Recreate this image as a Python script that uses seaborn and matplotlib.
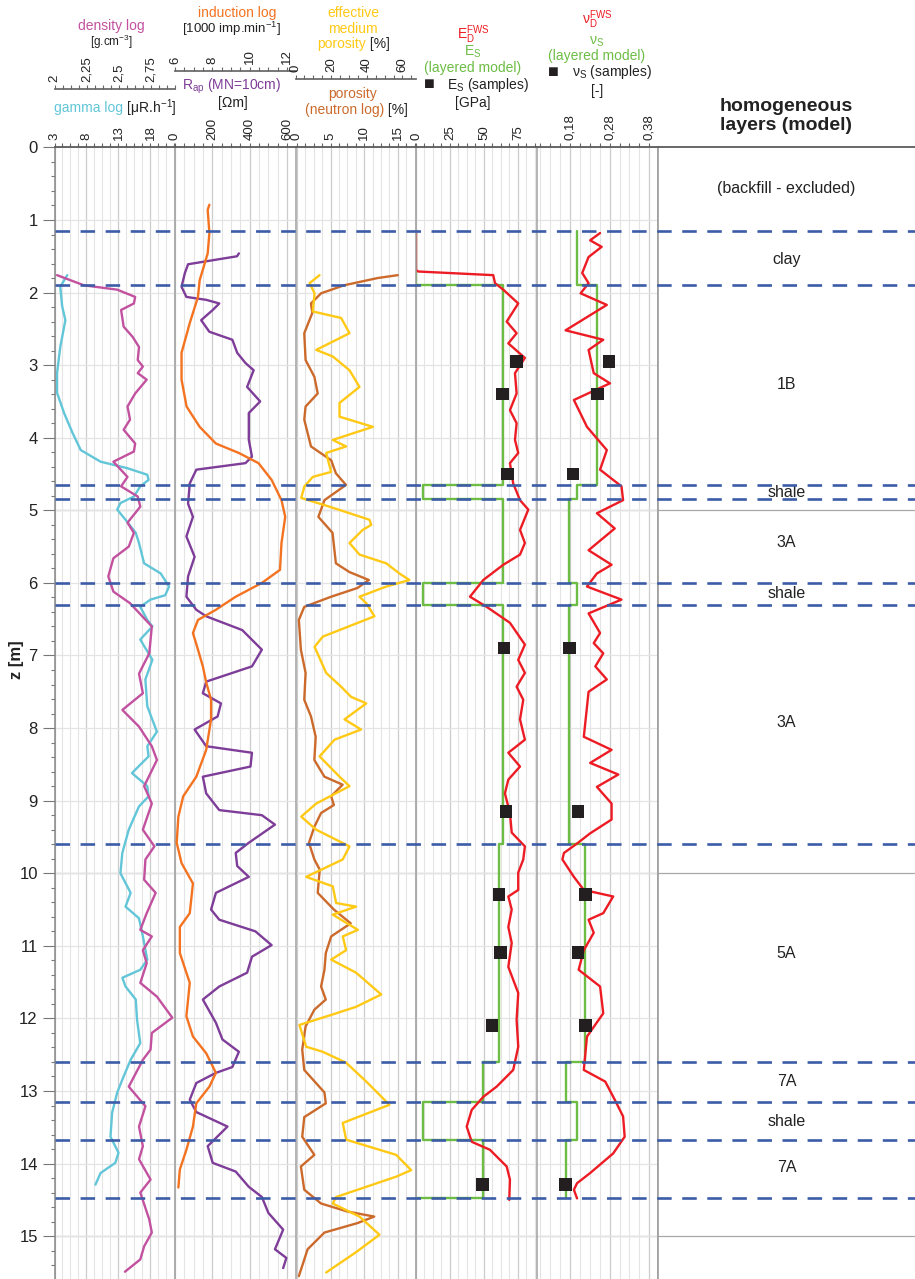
import numpy as np
import matplotlib
matplotlib.use("Agg")
import matplotlib.pyplot as plt
import seaborn as sns
from matplotlib.ticker import FixedLocator, FixedFormatter

# depth log data (z in m)
gamma_z = [1.76, 1.92, 2.19, 2.38, 2.75, 3.11, 3.38, 3.66, 3.93, 4.17, 4.33, 4.42, 4.51, 4.58, 4.67,
           4.81, 4.90, 4.99, 5.13, 5.31, 5.45, 5.73, 5.87, 6.05, 6.17, 6.23, 6.33, 6.51, 6.60, 6.78,
           7.06, 7.33, 7.70, 8.05, 8.25, 8.39, 8.62, 8.80, 8.94, 9.08, 9.40, 9.72, 10.0, 10.27, 10.46,
           10.62, 10.82, 11.19, 11.33, 11.44, 11.56, 11.74, 12.02, 12.34, 12.57, 12.80, 13.02, 13.30,
           13.63, 13.85, 13.99, 14.13, 14.29]
gamma_v = [5.0, 3.9, 4.2, 4.7, 3.9, 3.4, 3.4, 4.5, 5.8, 7.1, 10.2, 14.4, 17.5, 17.7, 16.4,
           15.4, 13.3, 12.8, 14.1, 15.7, 16.2, 17.0, 19.6, 20.9, 20.3, 18.0, 16.4, 17.5, 18.3, 16.4,
           18.3, 17.2, 17.5, 19.0, 17.5, 17.7, 15.1, 17.5, 17.7, 16.2, 14.6, 13.6, 13.3, 14.9, 14.1,
           16.2, 16.7, 17.5, 16.4, 13.6, 14.1, 15.7, 15.9, 16.4, 14.9, 13.8, 12.8, 12.0,
           11.75, 13.0, 12.5, 10.2, 9.4]

dens_z = [1.76, 1.90, 1.96, 2.06, 2.15, 2.24, 2.47, 2.61, 2.75, 2.93, 3.02, 3.11, 3.20, 3.39, 3.57,
          3.75, 3.89, 4.08, 4.19, 4.33, 4.54, 4.67, 4.81, 4.95, 5.17, 5.31, 5.50, 5.66, 5.91, 6.12,
          6.28, 6.60, 6.97, 7.25, 7.52, 7.75, 7.98, 8.25, 8.44, 8.80, 9.04, 9.40, 9.63, 9.81, 10.09,
          10.27, 10.55, 10.78, 10.87, 11.06, 11.24, 11.51, 11.70, 11.99, 12.20, 12.43, 12.57, 12.94,
          13.21, 13.49, 13.76, 13.94, 14.22, 14.40, 14.77, 14.95, 15.14, 15.32, 15.49]
dens_v = [2.02, 2.23, 2.49, 2.63, 2.62, 2.52, 2.54, 2.61, 2.66, 2.65, 2.69, 2.65, 2.72, 2.63, 2.57,
          2.59, 2.54, 2.63, 2.62, 2.46, 2.57, 2.52, 2.65, 2.67, 2.57, 2.62, 2.58, 2.46, 2.42, 2.46,
          2.59, 2.76, 2.74, 2.66, 2.69, 2.53, 2.66, 2.76, 2.80, 2.70, 2.76, 2.69, 2.78, 2.71, 2.70,
          2.79, 2.72, 2.67, 2.76, 2.69, 2.72, 2.67, 2.80, 2.92, 2.76, 2.75, 2.69, 2.58,
          2.71, 2.66, 2.69, 2.66, 2.75, 2.67, 2.74, 2.76, 2.70, 2.67, 2.55]

rap_z = [1.46, 1.50, 1.61, 1.73, 1.92, 2.06, 2.10, 2.15, 2.24, 2.38, 2.54, 2.65, 2.83, 2.97, 3.07,
         3.30, 3.50, 3.66, 4.03, 4.26, 4.35, 4.44, 4.63, 4.91, 5.09, 5.36, 5.64, 5.91, 6.19, 6.37,
         6.46, 6.65, 6.92, 7.15, 7.36, 7.52, 7.66, 7.84, 8.02, 8.25, 8.34, 8.53, 8.67, 8.90, 9.13,
         9.20, 9.33, 9.58, 9.72, 9.90, 10.05, 10.27, 10.50, 10.64, 10.80, 10.99, 11.15, 11.37, 11.56,
         11.74, 12.06, 12.29, 12.46, 12.67, 12.75, 12.89, 13.12, 13.29, 13.49, 13.76, 13.99, 14.11,
         14.32, 14.46, 14.68, 14.91, 15.18, 15.30, 15.44]
rap_v = [342, 332, 70, 53, 35, 61, 167, 237, 202, 140, 184, 307, 333, 377, 421,
         386, 456, 395, 395, 412, 377, 114, 79, 70, 96, 61, 105, 70, 61, 114,
         167, 360, 465, 412, 167, 149, 246, 228, 105, 167, 412, 404, 149, 167, 237,
         465, 535, 395, 325, 333, 395, 219, 193, 237, 430, 517, 412, 386, 237,
         149, 219, 254, 342, 307, 219, 114, 79, 114, 281, 175, 202, 325,
         395, 465, 500, 579, 535, 596, 579]

ind_z = [0.79, 0.86, 1.18, 1.46, 1.83, 2.06, 2.42, 2.83, 3.20, 3.57, 3.85, 4.08, 4.21, 4.35, 4.58,
         4.86, 5.09, 5.45, 5.82, 6.00, 6.19, 6.37, 6.51, 6.69, 6.92, 7.15, 7.37, 7.61, 7.88, 8.30,
         8.67, 8.94, 9.22, 9.58, 9.86, 10.14, 10.55, 10.74, 11.10, 11.51, 11.97, 12.25, 12.48, 12.75,
         12.94, 13.17, 13.49, 13.81, 14.08, 14.33]
ind_v = [7.84, 7.75, 7.84, 7.75, 7.32, 7.23, 6.79, 6.35, 6.35, 6.62, 7.32, 8.19, 9.42, 10.47, 11.17,
         11.70, 11.90, 11.70, 11.62, 10.65, 9.25, 8.19, 7.23, 6.96, 7.23, 7.49, 7.67, 7.93, 7.93, 7.67,
         7.14, 6.44, 6.18, 6.09, 6.35, 6.96, 6.79, 6.26, 6.26, 6.79, 6.61, 6.96, 7.67, 8.19,
         7.84, 7.14, 6.96, 6.61, 6.26, 6.18]

neut_z = [1.76, 1.80, 1.90, 2.01, 2.15, 2.28, 2.56, 2.93, 3.16, 3.39, 3.57, 3.75, 4.12, 4.31, 4.49,
          4.65, 4.86, 5.09, 5.31, 5.73, 5.85, 5.96, 6.07, 6.19, 6.33, 6.51, 6.92, 7.24, 7.61, 7.84,
          8.12, 8.44, 8.67, 8.78, 8.94, 9.06, 9.17, 9.36, 9.58, 9.81, 9.95, 10.27, 10.50, 10.69, 10.87,
          11.10, 11.33, 11.56, 11.74, 11.88, 12.11, 12.43, 12.71, 13.02, 13.17, 13.36, 13.63, 13.88,
          14.04, 14.36, 14.55, 14.66, 14.73, 14.82, 14.95, 15.18, 15.55]
neut_v = [15.0, 12.0, 7.0, 3.6, 2.1, 2.3, 1.1, 1.3, 2.6, 3.1, 1.3, 1.1, 2.1, 5.1, 5.8,
          7.3, 4.1, 3.2, 5.3, 5.8, 7.8, 10.7, 9.0, 5.1, 1.1, 0.3, 0.6, 1.3, 1.1, 2.1,
          2.8, 2.6, 4.1, 6.8, 5.1, 5.5, 3.6, 2.6, 1.8, 2.6, 3.4, 3.1, 5.5, 8.0, 5.1,
          4.3, 4.1, 3.6, 4.3, 2.6, 1.3, 0.8, 1.1, 4.1, 4.3, 1.1, 0.8, 2.6,
          0.6, 1.1, 3.6, 7.5, 11.5, 9.0, 4.1, 1.6, 0.3]

eff_z = [1.76, 1.87, 2.01, 2.26, 2.35, 2.56, 2.79, 2.88, 3.07, 3.30, 3.52, 3.71, 3.85, 4.03, 4.12,
         4.21, 4.47, 4.54, 4.67, 4.83, 4.95, 5.13, 5.20, 5.27, 5.45, 5.61, 5.73, 5.87, 5.96, 6.05,
         6.19, 6.28, 6.46, 6.74, 6.88, 7.24, 7.43, 7.57, 7.66, 7.88, 8.02, 8.16, 8.39, 8.67, 8.80,
         9.04, 9.22, 9.40, 9.63, 9.81, 10.05, 10.18, 10.41, 10.46, 10.57, 10.78, 10.87, 11.06, 11.19,
         11.37, 11.67, 11.84, 11.93, 12.09, 12.39, 12.46, 12.61, 12.87, 13.19, 13.44, 13.67, 13.88,
         14.09, 14.18, 14.32, 14.46, 14.55, 14.73, 14.98, 15.22, 15.50]
eff_v = [13.5, 7.9, 10.7, 9.7, 25.6, 30.3, 11.6, 20.9, 30.3, 35.9, 24.7, 24.7, 43.4, 20.9, 28.4,
         17.2, 20.0, 9.7, 5.0, 3.2, 19.1, 41.5, 42.5, 37.7, 30.3, 35.9, 50.9, 58.3, 63.9, 50.9,
         35.9, 39.7, 44.3, 15.3, 10.7, 17.2, 25.6, 31.2, 39.7, 27.5, 36.8, 21.9, 13.5, 24.7, 30.3,
         11.6, 3.2, 11.6, 30.3, 26.5, 6.0, 20.9, 22.8, 34.0, 20.9, 35.0, 26.5, 28.4, 20.0,
         34.0, 48.1, 34.0, 22.8, 2.2, 6.0, 15.3, 28.4, 39.7, 52.7, 26.5, 28.4, 56.5,
         64.9, 56.5, 39.7, 22.8, 20.9, 35.9, 47.1, 34.0, 17.2]

ed_z = [1.16, 1.69, 1.71, 1.76, 1.87, 1.96, 2.15, 2.40, 2.56, 2.70, 2.90, 3.11, 3.39, 3.62, 3.80,
        4.03, 4.21, 4.35, 4.63, 4.86, 4.99, 5.27, 5.45, 5.61, 5.75, 5.96, 6.19, 6.33, 6.55, 6.85,
        7.06, 7.24, 7.43, 7.61, 7.88, 8.16, 8.34, 8.53, 8.71, 8.90, 9.17, 9.44, 9.63, 9.81, 9.99,
        10.23, 10.32, 10.50, 10.74, 10.96, 11.29, 11.65, 12.02, 12.39, 12.71, 12.94, 13.08, 13.26,
        13.49, 13.70, 13.81, 14.04, 14.22, 14.50]
ed_v = [0, 0, 1.7, 56.8, 58.1, 64.2, 75.2, 66.7, 74.0, 67.9, 80.1, 72.8, 74.0, 69.1, 74.0,
        72.8, 75.2, 69.1, 71.5, 76.5, 82.6, 76.5, 80.1, 76.5, 64.2, 49.5, 39.7, 52.0, 69.1, 80.1,
        75.2, 80.1, 74.0, 78.9, 76.5, 80.1, 67.9, 76.5, 67.9, 65.4, 69.1, 70.4, 80.1, 78.9, 75.2,
        75.2, 67.9, 70.4, 67.9, 70.4, 67.9, 75.2, 74.0, 75.2, 71.5, 59.3, 49.5, 41.0,
        37.3, 41.0, 54.4, 66.7, 69.1, 68.6]

nd_z = [1.18, 1.28, 1.37, 1.51, 1.73, 1.87, 2.01, 2.17, 2.52, 2.65, 2.79, 3.11, 3.25, 3.48, 3.85,
        4.17, 4.44, 4.67, 4.86, 5.04, 5.25, 5.55, 5.75, 5.87, 6.05, 6.23, 6.42, 6.69, 6.83, 6.97,
        7.15, 7.33, 7.50, 8.12, 8.30, 8.48, 8.64, 8.81, 9.04, 9.26, 9.45, 9.59, 9.72, 9.81, 10.05,
        10.23, 10.32, 10.55, 10.64, 10.82, 11.06, 11.33, 11.56, 11.93, 12.25, 12.71, 12.87, 13.12,
        13.35, 13.63, 13.86, 14.13, 14.27, 14.36, 14.48]
nd_v = [0.256, 0.231, 0.260, 0.227, 0.211, 0.227, 0.207, 0.273, 0.169, 0.264, 0.227, 0.240, 0.281, 0.190, 0.223,
        0.273, 0.256, 0.310, 0.314, 0.248, 0.293, 0.227, 0.285, 0.248, 0.223, 0.310, 0.227, 0.256, 0.240, 0.264,
        0.244, 0.273, 0.227, 0.215, 0.285, 0.231, 0.302, 0.248, 0.285, 0.285, 0.231, 0.198, 0.165, 0.161, 0.190,
        0.215, 0.289, 0.264, 0.227, 0.240, 0.215, 0.202, 0.256, 0.264, 0.223, 0.215, 0.269, 0.293,
        0.314, 0.318, 0.289, 0.231, 0.198, 0.190, 0.198]

# layered model
layer_bounds = [1.15, 1.9, 4.65, 4.85, 6.0, 6.3, 9.6, 12.6, 13.15, 13.68, 14.48]
es_layers = [0, 63.7, 5.4, 64.0, 5.4, 64.0, 61.3, 49.0, 5.4, 49.0]
nus_layers = [0.198, 0.248, 0.198, 0.178, 0.198, 0.178, 0.219, 0.169, 0.198, 0.169]
layer_names = ["(backfill - excluded)", "clay", "1B", "shale", "3A", "shale", "3A", "5A", "7A", "shale", "7A"]
layer_name_z = [0.56, 1.54, 3.26, 4.76, 5.45, 6.15, 7.93, 11.1, 12.87, 13.42, 14.05]

sample_z = [2.95, 3.4, 4.5, 6.9, 9.15, 10.29, 11.09, 12.1, 14.29]
es_samples = [74.0, 63.7, 67.4, 64.7, 66.2, 61.0, 62.3, 55.9, 49.0]
nus_samples = [0.279, 0.250, 0.188, 0.179, 0.200, 0.219, 0.200, 0.219, 0.169]

C_GAMMA = "#62c6d8"
C_DENS = "#c2519f"
C_RAP = "#7e3d98"
C_IND = "#f47321"
C_NEUT = "#cc6a2c"
C_EFF = "#ffc915"
C_RED = "#ed1c24"
C_GREEN = "#6dbd45"
C_BLUE = "#3c5ca8"
C_SQ = "#231f20"

sns.set_theme(style="white")
plt.rcParams["font.family"] = ["Liberation Sans", "DejaVu Sans"]
plt.rcParams["mathtext.default"] = "regular"

W, H = 915, 1279
TOP = 147.4
Z_BOT = 15.59
edges = [54.5, 175, 295.5, 416, 537, 658]
axh = (H - TOP) / H

fig = plt.figure(figsize=(W / 100, H / 100), dpi=100)


def fx(x):
    return x / W


def fy(y):
    return 1 - y / H


def fmt(vals):
    return [f"{v:g}".replace(".", ",") for v in vals]


def scale(ax, lim, major, minor):
    ax.set_xlim(*lim)
    ax.xaxis.set_major_locator(FixedLocator(major))
    ax.xaxis.set_minor_locator(FixedLocator(minor))
    ax.xaxis.set_major_formatter(FixedFormatter(fmt(major)))
    ax.tick_params(axis="x", which="both", top=True, bottom=False, labeltop=True,
                   labelbottom=False, direction="out", length=3, width=0.8,
                   color="#666666", labelsize=9.5, labelrotation=90, pad=2,
                   labelcolor="#222222")


def make_track(i, lim, major, minor, top=None):
    ax = fig.add_axes([fx(edges[i]), 0, fx(edges[i + 1] - edges[i]), axh])
    ax2 = None
    if top is not None:
        ax2 = ax.twiny()
        scale(ax2, *top[:3])
        ax2.spines["top"].set_position(("outward", top[3]))
        ax2.spines["top"].set_color("#666666")
        for s in ["left", "right", "bottom"]:
            ax2.spines[s].set_visible(False)
        ax2.grid(False)
    scale(ax, lim, major, minor)
    ax.set_ylim(Z_BOT, 0)
    ax.set_yticks(range(0, 16))
    ax.yaxis.set_minor_locator(FixedLocator(np.arange(0, 15.6, 0.2)))
    ax.grid(axis="x", which="minor", color="#e4e4e4", lw=0.8)
    ax.grid(axis="x", which="major", color="#cccccc", lw=0.9)
    ax.grid(axis="y", which="major", color="#e4e4e4", lw=0.9)
    for zz in (5, 10, 15):
        ax.axhline(zz, color="#a8a8a8", lw=0.9, zorder=0.5)
    ax.tick_params(axis="y", which="both", left=False, labelleft=False)
    ax.spines["top"].set_color("#555555")
    ax.spines["left"].set_color("#a0a0a0")
    ax.spines["left"].set_linewidth(1.1)
    ax.spines["bottom"].set_visible(False)
    ax.spines["right"].set_visible(False)
    return ax, ax2


def line(ax, x, z, color):
    sns.lineplot(x=x, y=z, ax=ax, color=color, lw=1.7, sort=False,
                 estimator=None, legend=False)


def steps(bounds, vals):
    sx, sz = [], []
    for k, v in enumerate(vals):
        sx += [v, v]
        sz += [bounds[k], bounds[k + 1]]
    return sx, sz


# track 1: gamma + density
ax1, ax1b = make_track(0, (3, 21.83), [3, 8, 13, 18], np.arange(3, 21.9, 1.25),
                       ((2, 2.941), [2, 2.25, 2.5, 2.75], np.arange(2, 2.95, 0.0625), 41.8))
line(ax1, gamma_v, gamma_z, C_GAMMA)
line(ax1b, dens_v, dens_z, C_DENS)
ax1.tick_params(axis="y", which="both", left=True, labelleft=True, direction="out",
                color="#777777", width=0.8, labelsize=12, labelcolor="#222222")
ax1.tick_params(axis="y", which="major", length=9, pad=3)
ax1.tick_params(axis="y", which="minor", length=3)
ax1.spines["left"].set_color("#888888")

# track 2: R_ap + induction
ax2, ax2b = make_track(1, (0, 645), [0, 200, 400, 600], np.arange(0, 645, 50),
                       ((6, 12.45), [6, 8, 10, 12], np.arange(6, 12.5, 0.5), 55.0))
line(ax2, rap_v, rap_z, C_RAP)
line(ax2b, ind_v, ind_z, C_IND)

# track 3: neutron porosity + effective medium porosity
ax3, ax3b = make_track(2, (-0.2, 17.7), [0, 5, 10, 15], np.arange(0, 17.7, 1.25),
                       ((0, 67.6), [0, 20, 40, 60], np.arange(0, 67.6, 5), 49.2))
line(ax3, neut_v, neut_z, C_NEUT)
line(ax3b, eff_v, eff_z, C_EFF)

# track 4: Young's modulus
ax4, _ = make_track(3, (0, 89), [0, 25, 50, 75], np.arange(0, 89, 6.25))
sx, sz = steps(layer_bounds, es_layers)
line(ax4, sx + [0], sz + [layer_bounds[-1]], C_GREEN)
line(ax4, ed_v, ed_z, C_RED)
sns.scatterplot(x=es_samples, y=sample_z, ax=ax4, marker="s", s=80, color=C_SQ,
                edgecolor="none", zorder=5, legend=False)

# track 5: Poisson's ratio
ax5, _ = make_track(4, (0.097, 0.402), [0.18, 0.28, 0.38], np.arange(0.105, 0.402, 0.025))
sx, sz = steps(layer_bounds, nus_layers)
line(ax5, sx, sz, C_GREEN)
line(ax5, nd_v, nd_z, C_RED)
sns.scatterplot(x=nus_samples, y=sample_z, ax=ax5, marker="s", s=80, color=C_SQ,
                edgecolor="none", zorder=5, legend=False)
ax5.spines["right"].set_visible(True)
ax5.spines["right"].set_color("#a0a0a0")

for a in (ax1, ax2, ax3, ax4, ax5):
    a.set_ylim(Z_BOT, 0)
    a.set_xlabel("")
    a.set_ylabel("")
for a in (ax1b, ax2b, ax3b):
    a.set_xlabel("")

# layer column
lay = fig.add_axes([fx(658), 0, fx(W - 658), axh])
lay.set_xlim(0, 1)
lay.set_ylim(Z_BOT, 0)
lay.set_xticks([])
lay.set_yticks([])
for s in ["right", "bottom"]:
    lay.spines[s].set_visible(False)
lay.spines["top"].set_color("#555555")
lay.spines["left"].set_color("#a0a0a0")
for zz in (5, 10, 15):
    lay.axhline(zz, color="#a8a8a8", lw=0.9)
for name, zz in zip(layer_names, layer_name_z):
    lay.text(0.5, zz, name, ha="center", va="center", fontsize=11.5, color="#222222")

# dashed layer boundaries across everything
ov = fig.add_axes([fx(54.5), 0, fx(W - 54.5), axh])
ov.set_zorder(10)
ov.set_xlim(0, 1)
ov.set_ylim(Z_BOT, 0)
ov.axis("off")
for b in layer_bounds:
    ov.axhline(b, color=C_BLUE, lw=1.9, ls=(0, (5.5, 4.0)))


# header texts
def t(x, y, s, color="#222222", size=10, ha="center", **kw):
    fig.text(fx(x), fy(y), s, color=color, fontsize=size, ha=ha, va="center", **kw)


t(111, 26, "density log", C_DENS)
t(111, 42, "[g.cm$^{-3}$]", size=8.5)
t(123, 108, "gamma log", C_GAMMA, ha="right")
t(123, 108, " [μR.h$^{-1}$]", ha="left")
t(237, 13, "induction log", C_IND)
t(232, 29, "[1000 imp.min$^{-1}$]", size=9.5)
t(232, 86, "$R_{ap}$ (MN=10cm)", C_RAP)
t(233, 103, "[Ωm]")
t(353, 13, "effective", C_EFF)
t(353, 29, "medium", C_EFF)
t(366, 44, "porosity", C_EFF, ha="right")
t(366, 44, " [%]", ha="left")
t(353, 94, "porosity", C_NEUT)
t(384, 110, "(neutron log)", C_NEUT, ha="right")
t(384, 110, " [%]", ha="left")
t(473, 35, "$E_D^{FWS}$", C_RED)
t(473, 52, "$E_S$", C_GREEN)
t(473, 68, "(layered model)", C_GREEN)
t(429, 85, "■", C_SQ, size=13)
t(447, 85, "$E_S$ (samples)", ha="left")
t(473, 103, "[GPa]")
t(597, 20, "$ν_D^{FWS}$", C_RED)
t(597, 42, "$ν_S$", C_GREEN)
t(597, 56, "(layered model)", C_GREEN)
t(553, 72, "■", C_SQ, size=13)
t(572, 72, "$ν_S$ (samples)", ha="left")
t(597, 91, "[-]")
t(786, 116, "homogeneous\nlayers (model)", size=14, fontweight="bold", linespacing=1.15)
t(16, 660, "z [m]", size=12, fontweight="bold", rotation=90)

fig.savefig("out.png", dpi=100)
